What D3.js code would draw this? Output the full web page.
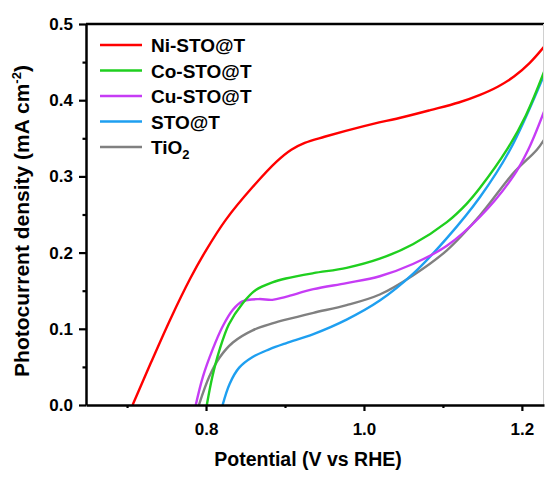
<!DOCTYPE html>
<html>
<head>
<meta charset="utf-8">
<script src="https://cdn.jsdelivr.net/npm/d3@7/dist/d3.min.js"></script>
<style>
  html,body{margin:0;padding:0;background:#fff;}
  svg text{font-family:"Liberation Sans",Arial,sans-serif;font-weight:bold;fill:#000;}
</style>
</head>
<body>
<div id="chart"></div>
<script>
// photocurrent vs potential
const seriesNames = ['Ni-STO@T','Co-STO@T','Cu-STO@T','STO@T','TiO2'];
const seriesColors = ['#ff0000','#1fcf1f','#c63cf5','#1e9ff0','#808080'];

const niV = [0.707,0.730,0.755,0.780,0.800,0.825,0.859,0.890,0.908,0.925,0.950,1.000,1.050,1.084,1.120,1.147,1.170,1.190,1.210,1.228];
const niJ = [0.000,0.055,0.113,0.166,0.203,0.243,0.286,0.320,0.335,0.344,0.352,0.366,0.378,0.387,0.397,0.407,0.418,0.431,0.449,0.470];

const coV = [0.801,0.808,0.817,0.829,0.846,0.863,0.884,0.901,0.936,0.978,1.020,1.062,1.105,1.130,1.147,1.181,1.205,1.228];
const coJ = [0.000,0.037,0.072,0.106,0.133,0.151,0.161,0.166,0.173,0.180,0.192,0.211,0.240,0.264,0.285,0.335,0.380,0.437];

const cuV = [0.787,0.796,0.808,0.821,0.834,0.846,0.867,0.884,0.901,0.936,0.978,1.020,1.062,1.105,1.147,1.189,1.208,1.228];
const cuJ = [0.000,0.037,0.072,0.103,0.125,0.136,0.139,0.138,0.142,0.152,0.160,0.169,0.185,0.209,0.247,0.300,0.335,0.385];

const stoV = [0.821,0.830,0.842,0.859,0.880,0.901,0.936,0.978,1.020,1.062,1.105,1.147,1.185,1.228];
const stoJ = [0.000,0.028,0.049,0.063,0.073,0.081,0.093,0.112,0.137,0.172,0.219,0.273,0.335,0.433];

const tiV = [0.791,0.804,0.817,0.834,0.859,0.884,0.901,0.936,0.978,1.020,1.062,1.105,1.147,1.189,1.219,1.228];
const tiJ = [0.000,0.037,0.062,0.082,0.098,0.107,0.112,0.121,0.131,0.145,0.170,0.203,0.249,0.304,0.335,0.348];

const xTicks = [0.8,1.0,1.2];
const xMinor = [0.7,0.9,1.1];
const yTicks = [0.0,0.1,0.2,0.3,0.4,0.5];
const yMinor = [0.05,0.15,0.25,0.35,0.45];

const allV = [niV,coV,cuV,stoV,tiV];
const allJ = [niJ,coJ,cuJ,stoJ,tiJ];

const W = 545, H = 477;
const margin = {top:24,right:1,bottom:72,left:86};

const svg = d3.select('#chart').append('svg').attr('width',W).attr('height',H);

const x = d3.scaleLinear().domain([0.648,1.228]).range([margin.left, W-margin.right]);
const y = d3.scaleLinear().domain([0,0.5]).range([H-margin.bottom, margin.top]);

// clip so lines stop at the frame
svg.append('clipPath').attr('id','plot').append('rect')
  .attr('x',margin.left).attr('y',margin.top)
  .attr('width',W-margin.right-margin.left).attr('height',H-margin.bottom-margin.top);

const line = d3.line().x(d=>x(d[0])).y(d=>y(d[1])).curve(d3.curveCatmullRom.alpha(0.5));
const plot = svg.append('g').attr('clip-path','url(#plot)');
// draw back to front like the reference: gray, blue, purple, green, red
[4,3,2,1,0].forEach(i=>{
  const pts = allV[i].map((v,k)=>[v,allJ[i][k]]);
  plot.append('path').datum(pts).attr('fill','none')
    .attr('stroke',seriesColors[i]).attr('stroke-width',2.4).attr('d',line);
});

// frame top and right
svg.append('line').attr('x1',x.range()[0]).attr('x2',x.range()[1]).attr('y1',y(0.5)).attr('y2',y(0.5))
  .attr('stroke','#000').attr('stroke-width',2.5);
svg.append('line').attr('x1',x.range()[1]-0.5).attr('x2',x.range()[1]-0.5).attr('y1',y(0.5)).attr('y2',y(0))
  .attr('stroke','#d0d0d0').attr('stroke-width',1);

// axes
function styleAxis(g){
  g.select('.domain').attr('stroke','#000').attr('stroke-width',2.5);
  g.selectAll('.tick line').attr('stroke','#000').attr('stroke-width',2.2);
  g.selectAll('.tick text').style('font-size','17px').style('font-weight','bold');
}
const gx = svg.append('g').attr('transform',`translate(0,${y(0)})`)
  .call(d3.axisBottom(x).tickValues(xTicks).tickFormat(d3.format('.1f')).tickSizeInner(6).tickSizeOuter(0).tickPadding(12));
styleAxis(gx);
svg.append('g').attr('transform',`translate(0,${y(0)})`)
  .call(d3.axisBottom(x).tickValues(xMinor).tickFormat('').tickSizeInner(3).tickSizeOuter(0))
  .call(g=>{g.select('.domain').remove(); g.selectAll('.tick line').attr('stroke','#000').attr('stroke-width',2.2);});

const gy = svg.append('g').attr('transform',`translate(${x(0.648)},0)`)
  .call(d3.axisLeft(y).tickValues(yTicks).tickFormat(d3.format('.1f')).tickSizeInner(7).tickSizeOuter(0).tickPadding(6));
styleAxis(gy);
svg.append('g').attr('transform',`translate(${x(0.648)},0)`)
  .call(d3.axisLeft(y).tickValues(yMinor).tickFormat('').tickSizeInner(3.5).tickSizeOuter(0))
  .call(g=>{g.select('.domain').remove(); g.selectAll('.tick line').attr('stroke','#000').attr('stroke-width',2.2);});

// axis titles
svg.append('text').attr('x',308).attr('y',466).attr('text-anchor','middle')
  .style('font-size','19.5px').text('Potential (V vs RHE)');

const yt = svg.append('text').attr('transform','translate(29,221) rotate(-90)').attr('text-anchor','middle')
  .style('font-size','21px');
yt.append('tspan').text('Photocurrent density (mA cm');
yt.append('tspan').attr('dy',-8).style('font-size','13px').text('-2');
yt.append('tspan').attr('dy',8).text(')');

// legend
const leg = svg.append('g');
seriesNames.forEach((name,i)=>{
  const ly = 45 + i*25.5;
  leg.append('line').attr('x1',100).attr('x2',142).attr('y1',ly).attr('y2',ly)
    .attr('stroke',seriesColors[i]).attr('stroke-width',2.6);
  const t = leg.append('text').attr('x',151).attr('y',ly+7).style('font-size','19px');
  if(name==='TiO2'){
    t.append('tspan').text('TiO');
    t.append('tspan').attr('dy',5).style('font-size','13px').text('2');
  } else t.text(name);
});
</script>
</body>
</html>
